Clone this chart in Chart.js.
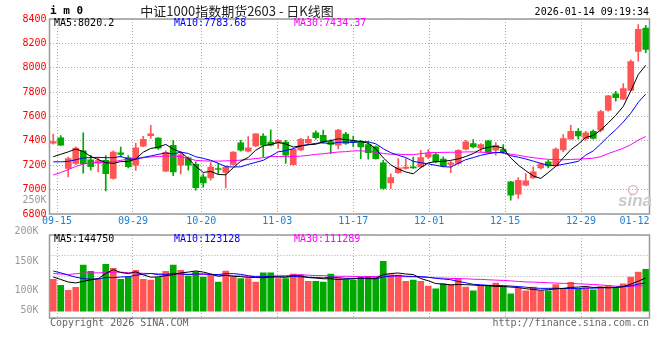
<!DOCTYPE html>
<html>
<head>
<meta charset="utf-8">
<script src="https://cdn.jsdelivr.net/npm/chart.js@4.4.1/dist/chart.umd.min.js"></script>
<style>
body{margin:0;background:#fff;}
#wrap{position:relative;width:660px;height:360px;overflow:hidden;}
#k{position:absolute;left:0;top:0;}
#v{position:absolute;left:0;top:226px;}
</style>
</head>
<body>
<div id="wrap">
<canvas id="k" width="660" height="228"></canvas>
<canvas id="v" width="660" height="134"></canvas>
</div>
<script>
// daily candles 09-15 .. 01-14 (80 sessions)
var open=[7382,7424,7173,7214,7318,7245,7218,7240,7092,7302, 7262,7200,7356,7443,7423,7152,7364,7200,7260,7208,
  7104,7097,7172,7142,7206,7384,7316,7358,7440,7390, 7382,7390,7205,7325,7384,7465,7446,7395,7365,7455,
  7400,7390,7370,7351,7220,7056,7140,7173,7184,7187, 7269,7288,7250,7206,7214,7332,7378,7343,7400,7323,
  7329,7064,6963,7036,7097,7179,7228,7195,7326,7414, 7479,7419,7479,7487,7651,7785,7742,7815,8135,8326];
var high=[7455,7444,7268,7352,7465,7282,7265,7280,7318,7350, 7280,7382,7438,7528,7428,7318,7405,7310,7268,7228,
  7130,7222,7215,7195,7312,7405,7436,7460,7460,7490, 7410,7405,7338,7420,7440,7482,7488,7410,7495,7470,
  7440,7405,7392,7360,7241,7129,7255,7255,7268,7323, 7329,7302,7269,7233,7329,7405,7411,7378,7405,7386,
  7370,7069,7099,7132,7187,7220,7241,7343,7452,7528, 7501,7479,7490,7651,7774,7807,7870,8064,8354,8348];
var low=[7372,7360,7104,7205,7135,7160,7145,6990,7085,7268, 7178,7158,7352,7420,7330,7148,7115,7128,7160,6995,
  7020,7078,7128,7015,7200,7315,7310,7352,7270,7358, 7340,7214,7200,7320,7378,7415,7380,7296,7335,7370,
  7352,7255,7250,7250,7003,7009,7132,7168,7173,7178, 7255,7220,7187,7140,7206,7326,7342,7310,7296,7282,
  7296,6913,6927,7031,7091,7168,7179,7192,7310,7414, 7414,7405,7415,7474,7643,7725,7740,7812,8053,8124];
var close=[7395,7364,7255,7340,7212,7188,7238,7130,7308,7288, 7188,7342,7412,7458,7340,7305,7146,7288,7200,7017,
  7055,7185,7165,7186,7308,7323,7342,7458,7365,7365, 7405,7282,7330,7412,7412,7426,7390,7370,7488,7380,
  7385,7350,7304,7255,7009,7099,7178,7184,7178,7263, 7296,7228,7195,7220,7323,7392,7351,7370,7302,7364,
  7310,6955,7077,7072,7146,7209,7195,7332,7419,7479, 7441,7465,7420,7640,7769,7755,7830,8050,8316,8150];
var volume=[139000,113000,91000,104000,201000,174000,139000,204000,187000,139000,
  149000,178000,139000,135000,146000,174000,201000,178000,153000,171000,
  149000,160000,127000,175000,149000,142000,142000,127000,167000,167000,
  142000,142000,162000,157000,130000,130000,127000,162000,142000,138000,
  135000,146000,152000,146000,217000,160000,157000,130000,135000,130000,
  109000,97000,119000,116000,140000,105000,88000,109000,113000,122000,
  105000,75000,99000,88000,105000,88000,88000,116000,99000,126000,
  95000,102000,93000,106000,111530,103000,119000,149000,170000,182750];

// moving average values before enough sessions exist
var ma5Head=[7270,7290,7310,7333];
var ma10Head=[7228,7228,7232,7245,7260,7263,7265,7262,7262];
var ma30Head=[7120,7140,7165,7190,7210,7218,7222,7225,7230,7240,7250,7255,7262,7268,7272,7276,7276,7270,7255,7240,
  7236,7234,7234,7236,7238,7242,7248,7255,7262];
var vma5Head=[149000,138000,127000,123000];
var vma10Head=[175000,167000,157000,148000,142000,139000,141000,146000,146000];
var vma30Head=[164000,162000,160000,163000,166000,167000,167000,168000,170000,170000,168000,167000,165000,164000,163000,
  162000,162000,161000,161000,161000,160000,159000,157000,156000,154000,153000,152000,152000,152000];

var tickDates=['09-15','09-29','10-20','11-03','11-17','12-01','12-15','12-29','01-12'];
var tickIdx=[0,10,19,29,39,49,59,69,77];
var priceTicks=[6800,7000,7200,7400,7600,7800,8000,8200,8400];
var volTickText=['200K','150K','100K','50K'];

var maText=['MA5:8020.2','MA10:7783.68','MA30:7434.37'];
var vmaText=['MA5:144750','MA10:123128','MA30:111289'];

var RED='#ff5555',GREEN='#00a800',GRID='#ababab',MONO='"DejaVu Sans Mono"';

function movAvg(vals,n,head){
  var out=[];
  for(var i=0;i<vals.length;i++){
    if(i<n-1){out.push(head[i]);continue;}
    var s=0;for(var j=i-n+1;j<=i;j++){s+=vals[j];}
    out.push(s/n);
  }
  return out;
}
function pts(arr){return arr.map(function(v,i){return {x:i,y:v};});}

var cols=[],wick=[],body=[],vol=[];
for(var i=0;i<close.length;i++){
  cols.push(close[i]>=open[i]?RED:GREEN);
  wick.push({x:i,y:[low[i],high[i]]});
  body.push({x:i,y:[open[i],close[i]]});
  vol.push({x:i,y:volume[i]});
}
// label spots follow the sina layout (spread over 79 gaps, last one kept inside)
var tickPos=tickIdx.map(function(d){return Math.min(0.5+d*80/79,77.5);});

function line(data,color){
  return {type:'line',data:data,borderColor:color,borderWidth:1,pointRadius:0,tension:0,order:1};
}

var frame={
  id:'frame',
  afterDraw:function(c,args,o){
    var ctx=c.ctx,a=c.chartArea;
    ctx.save();
    ctx.strokeStyle='#9a9a9a';ctx.lineWidth=1.5;
    ctx.strokeRect(a.left,a.top,a.right-a.left,a.bottom-a.top);
    ctx.textBaseline='middle';
    ctx.font='10px '+MONO;
    var lx=[54,174,294],lc=['#000','#0000ff','#ff00ff'];
    for(var i=0;i<3;i++){ctx.fillStyle=lc[i];ctx.textAlign='left';ctx.fillText(o.ma[i],lx[i],a.top+o.maY);}
    if(o.top){
      ctx.fillStyle='#000';ctx.font='bold 11px '+MONO;ctx.textAlign='left';
      ctx.fillText('i m 0',50,11);
      ctx.font='13px "Noto Sans CJK SC"';ctx.textAlign='center';ctx.fillStyle='#222';
      ctx.fillText('中证1000指数期货2603 - 日K线图',237,11);
      ctx.font='10px '+MONO;ctx.textAlign='right';ctx.fillStyle='#000';
      ctx.fillText('2026-01-14 09:19:34',649,12);
      ctx.fillStyle='#999';
      ctx.fillText('250K',46.5,200);
      // sina watermark
      ctx.strokeStyle='#e9b9b9';ctx.lineWidth=1.5;
      ctx.beginPath();ctx.arc(633,190,4.5,0,Math.PI*2);ctx.stroke();
      ctx.font='italic bold 17px "Liberation Sans"';ctx.fillStyle='#c9c9c9';ctx.textAlign='center';
      ctx.fillText('sina',635,201);
    }else{
      ctx.fillStyle='#666';ctx.textAlign='left';
      ctx.fillText('Copyright 2026 SINA.COM',50,97);
      ctx.textAlign='right';
      ctx.fillText('http://finance.sina.com.cn',649,97);
    }
    ctx.restore();
  }
};

var kChart=new Chart(document.getElementById('k'),{
  type:'bar',
  data:{datasets:[
    {data:wick,backgroundColor:cols,barThickness:1,grouped:false,order:3},
    {data:body,backgroundColor:cols,barThickness:6,grouped:false,minBarLength:1,order:2},
    line(pts(movAvg(close,5,ma5Head)),'#000000'),
    line(pts(movAvg(close,10,ma10Head)),'#0000ff'),
    line(pts(movAvg(close,30,ma30Head)),'#ff00ff')
  ]},
  options:{
    responsive:false,animation:false,
    layout:{padding:{left:0,right:10.5,top:19,bottom:0}},
    plugins:{legend:{display:false},tooltip:{enabled:false},frame:{ma:maText,maY:4.5,top:true}},
    scales:{
      x:{type:'linear',min:-0.5,max:79.5,offset:false,
        afterBuildTicks:function(s){s.ticks=tickPos.map(function(v){return {value:v};});},
        afterFit:function(s){s.height=14;},
        grid:{offset:false,drawTicks:false,color:function(c){return c.index==tickPos.length-1?'rgba(0,0,0,0)':GRID;}},
        border:{display:false,dash:[1,2]},
        ticks:{autoSkip:false,maxRotation:0,padding:1,color:'#1a80d6',font:{family:MONO,size:10},
          callback:function(v,i){return tickDates[i];}}
      },
      y:{min:6800,max:8400,
        afterBuildTicks:function(s){s.ticks=priceTicks.map(function(v){return {value:v};});},
        afterFit:function(s){s.width=49.5;},
        grid:{drawTicks:false,color:GRID},
        border:{display:false,dash:[1,2]},
        ticks:{padding:3,color:'#ff0000',font:{family:MONO,size:10},callback:function(v){return String(v);}}
      }
    }
  },
  plugins:[frame]
});

var vChart=new Chart(document.getElementById('v'),{
  type:'bar',
  data:{datasets:[
    {data:vol,backgroundColor:cols,barThickness:6,yAxisID:'y',order:2},
    line(pts(movAvg(volume,5,vma5Head)),'#000000'),
    line(pts(movAvg(volume,10,vma10Head)),'#0000ff'),
    line(pts(movAvg(volume,30,vma30Head)),'#ff00ff')
  ]},
  options:{
    responsive:false,animation:false,
    layout:{padding:{left:0,right:10.5,top:8.5,bottom:42}},
    plugins:{legend:{display:false},tooltip:{enabled:false},frame:{ma:vmaText,maY:4.5,top:false}},
    scales:{
      x:{type:'linear',min:-0.5,max:79.5,offset:false,
        afterBuildTicks:function(s){s.ticks=tickPos.slice(0,8).map(function(v){return {value:v};});},
        afterFit:function(s){s.height=0;},
        grid:{offset:false,drawTicks:false,color:GRID},
        border:{display:false,dash:[1,2]},
        ticks:{display:false}
      },
      y:{display:false,min:-30400,max:332600},
      yl:{position:'left',min:0,max:83.5,
        afterBuildTicks:function(s){s.ticks=[87,57.3,28,8].map(function(v){return {value:v};});},
        afterFit:function(s){s.width=49.5;},
        grid:{display:false},border:{display:false},
        ticks:{padding:3,color:'#999999',font:{family:MONO,size:10},callback:function(v,i){return volTickText[i];}}
      },
      yg:{position:'right',min:0,max:4,
        afterFit:function(s){s.width=0;},
        grid:{drawTicks:false,color:GRID},
        border:{display:false,dash:[1,2]},
        ticks:{display:false,stepSize:1}
      }
    }
  },
  plugins:[frame]
});
</script>
</body>
</html>
